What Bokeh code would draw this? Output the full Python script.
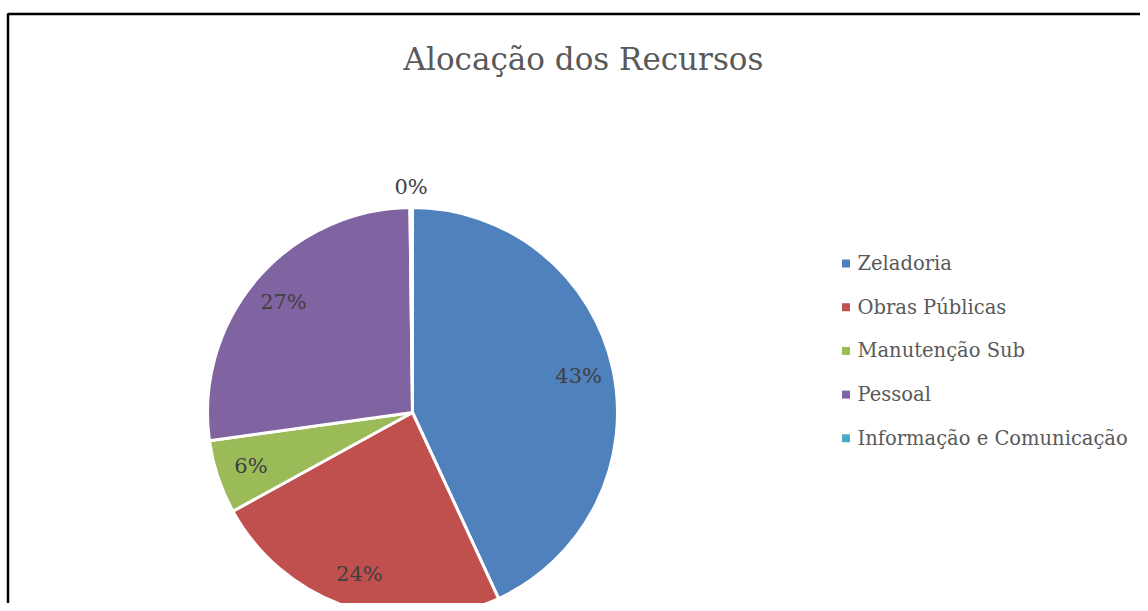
import numpy as np
from bokeh.plotting import figure
from bokeh.models import Range1d, ColumnDataSource
from bokeh.core.properties import value
from bokeh.embed import file_html
from bokeh.resources import INLINE

# ---- data ----
categories = ["Zeladoria", "Obras Públicas", "Manutenção Sub", "Pessoal", "Informação e Comunicação"]
shares = [43.1, 23.9, 5.8, 27.0, 0.2]
colors = ["#4F81BD", "#C0504D", "#9BBB59", "#8064A2", "#4BACC6"]
title_text = "Alocação dos Recursos"

FONT = value("DejaVu Serif")
W, H = 1140, 603


def sy(y):
    return H - y


p = figure(width=W, height=H, x_range=Range1d(0, W), y_range=Range1d(0, H),
           output_backend="svg", toolbar_location=None, min_border=0)
p.axis.visible = False
p.grid.visible = False
p.outline_line_color = None
p.background_fill_color = "white"
p.border_fill_color = "white"

# chart border
p.line(x=[7.5, 7.5, 1400], y=[sy(900), sy(13.5), sy(13.5)], line_color="black", line_width=2.5)

# title
p.text(x=[583], y=[sy(58)], text=[title_text], text_font=FONT, text_font_size="31px",
       text_color="#595959", text_align="center", text_baseline="middle")

# pie
cx, cy, R = 412, sy(412), 205
frac = np.array(shares) / np.sum(shares)
cum = np.concatenate([[0.0], np.cumsum(frac)])
start = np.pi / 2 - cum[:-1] * 2 * np.pi
end = np.pi / 2 - cum[1:] * 2 * np.pi
src = ColumnDataSource(dict(start=start, end=end, color=colors, cat=categories))
p.wedge(x=cx, y=cy, radius=R, start_angle="start", end_angle="end", direction="clock",
        fill_color="color", line_color="white", line_width=3, source=src)

# data labels
mid = (cum[:-1] + cum[1:]) / 2
ang = np.pi / 2 - mid * 2 * np.pi
rl = np.where(frac < 0.01, 1.1 * R, 0.83 * R)
lx = cx + rl * np.cos(ang)
ly = cy + rl * np.sin(ang)
labels = [f"{round(s)}%" for s in shares]
p.text(x=lx, y=ly, text=labels, text_font=FONT, text_font_size="21px",
       text_color="#404040", text_align="center", text_baseline="middle")

# legend
n = len(categories)
ly0 = np.array([sy(263 + i * 43.7) for i in range(n)])
p.rect(x=[845.5] * n, y=ly0, width=8, height=8, fill_color=colors, line_color=None)
p.text(x=[857] * n, y=ly0, text=categories, text_font=FONT, text_font_size="19.5px",
       text_color="#595959", text_align="left", text_baseline="middle")

open("out.html", "w").write(file_html(p, INLINE))
